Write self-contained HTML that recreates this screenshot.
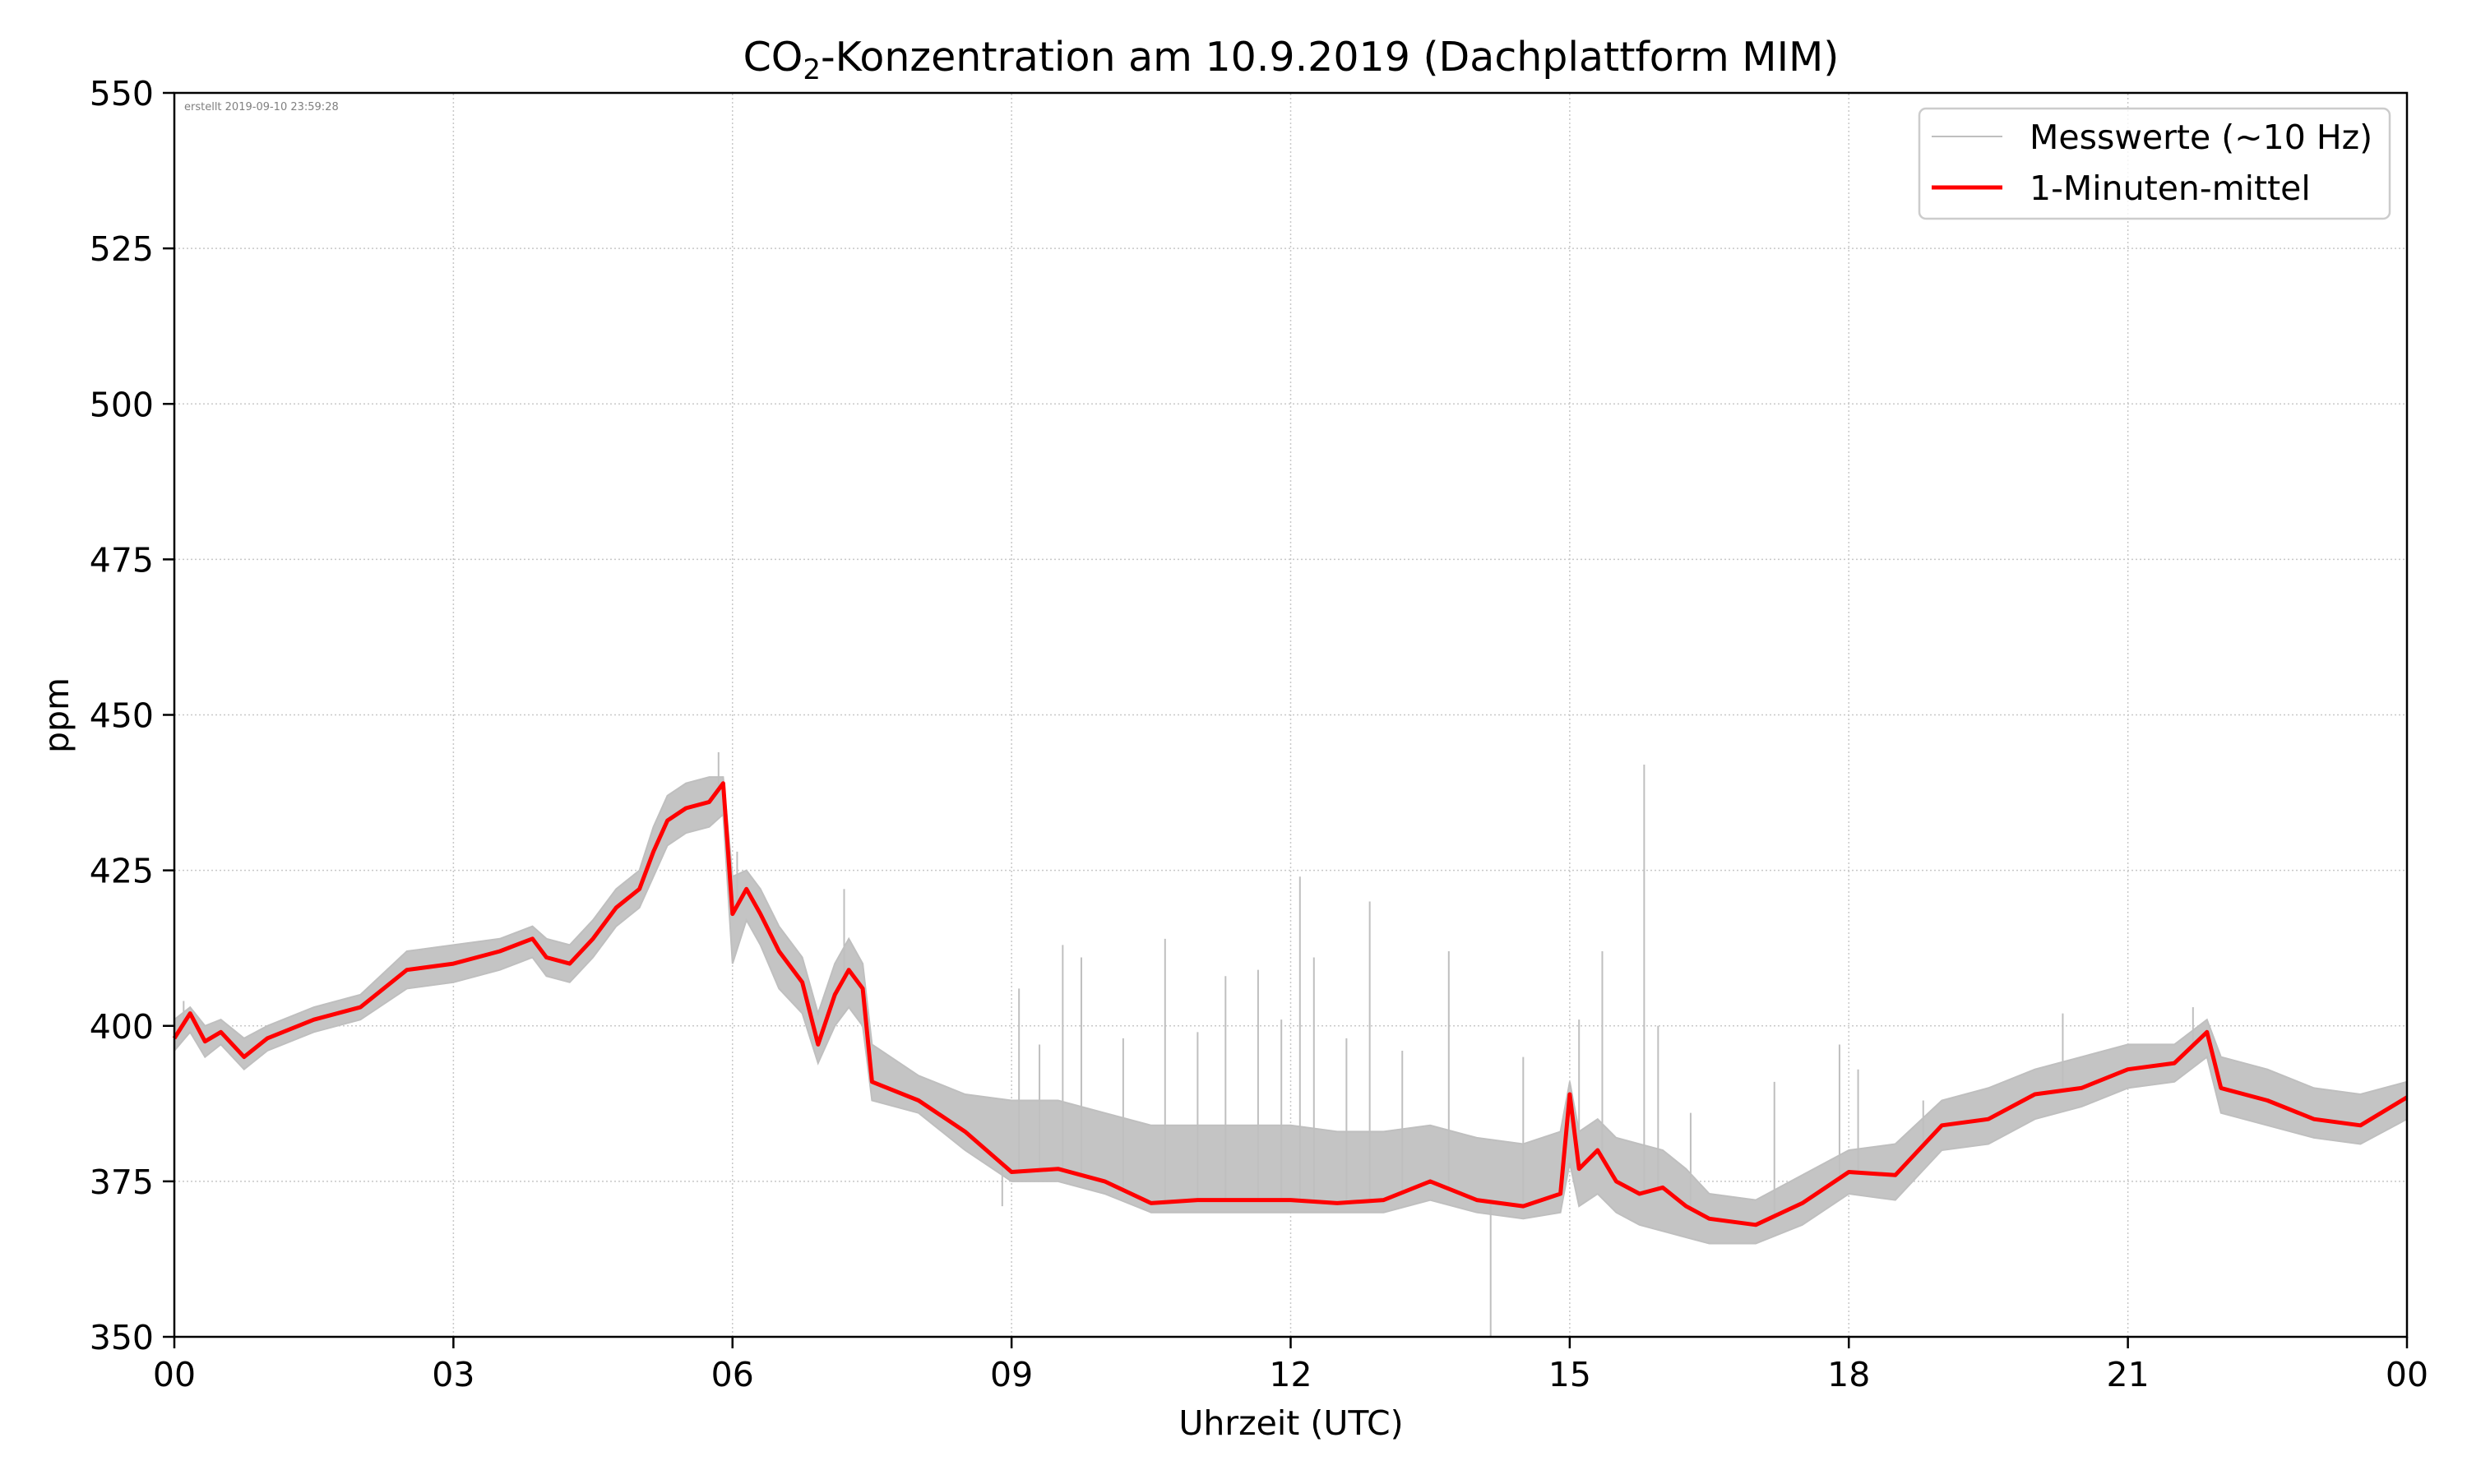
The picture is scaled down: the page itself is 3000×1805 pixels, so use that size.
<!DOCTYPE html>
<html><head><meta charset="utf-8">
<style>
html,body{margin:0;padding:0;background:#fff;}
svg text{font-family:"DejaVu Sans","Liberation Sans",sans-serif;}
</style></head>
<body>
<svg id="chart" width="3000" height="1800" viewBox="0 0 3000 1800" xmlns="http://www.w3.org/2000/svg">
<rect width="3000" height="1800" fill="#fff"/>
<text x="1570" y="86" font-size="49" text-anchor="middle">CO<tspan font-size="34" dy="10">2</tspan><tspan dy="-10">-Konzentration am 10.9.2019 (Dachplattform MIM)</tspan></text>
<g id="grid"></g>
<g id="gray"></g>
<g id="red"></g>
<rect x="212" y="113" width="2715" height="1513" fill="none" stroke="#000" stroke-width="2.5"/>
<g id="ticks"></g>
<text x="224" y="134" font-size="13" fill="#808080">erstellt 2019-09-10 23:59:28</text>
<text x="1570" y="1745" font-size="41" text-anchor="middle">Uhrzeit (UTC)</text>
<text transform="translate(83,870) rotate(-90)" font-size="41" text-anchor="middle">ppm</text>
<g>
<rect x="2334" y="132" width="572" height="134" rx="8" fill="#fff" fill-opacity="0.8" stroke="#ccc" stroke-width="2.5"/>
<line x1="2349" y1="166" x2="2435" y2="166" stroke="#bfbfbf" stroke-width="2"/>
<text x="2468" y="181" font-size="41">Messwerte (~10 Hz)</text>
<line x1="2349" y1="228" x2="2435" y2="228" stroke="#ff0000" stroke-width="5"/>
<text x="2468" y="243" font-size="41">1-Minuten-mittel</text>
</g>
</svg>
<script>
const hours = [0,0.17,0.33,0.5,0.75,1,1.5,2,2.5,3,3.5,3.85,4,4.25,4.5,4.75,5,5.15,5.3,5.5,5.75,5.9,6,6.15,6.3,6.5,6.75,6.92,7.1,7.25,7.4,7.5,8,8.5,9,9.5,10,10.5,11,11.5,12,12.5,13,13.5,14,14.5,14.9,15,15.1,15.3,15.5,15.75,16,16.25,16.5,17,17.5,18,18.5,19,19.5,20,20.5,21,21.5,21.85,22,22.5,23,23.5,24];
const meanPpm = [398,402,397.5,399,395,398,401,403,409,410,412,414,411,410,414,419,422,428,433,435,436,439,418,422,418,412,407,397,405,409,406,391,388,383,376.5,377,375,371.5,372,372,372,371.5,372,375,372,371,373,389,377,380,375,373,374,371,369,368,371.5,376.5,376,384,385,389,390,393,394,399,390,388,385,384,388.5];
const upperPpm = [401,403,400,401,398,400,403,405,412,413,414,416,414,413,417,422,425,432,437,439,440,440,424,425,422,416,411,402,410,414,410,397,392,389,388,388,386,384,384,384,384,383,383,384,382,381,383,391,383,385,382,381,380,377,373,372,376,380,381,388,390,393,395,397,397,401,395,393,390,389,391];
const lowerPpm = [396,399,395,397,393,396,399,401,406,407,409,411,408,407,411,416,419,424,429,431,432,434,410,417,413,406,402,394,400,403,400,388,386,380,375,375,373,370,370,370,370,370,370,372,370,369,370,378,371,373,370,368,367,366,365,365,368,373,372,380,381,385,387,390,391,395,386,384,382,381,385];
const spikeHours = [0.1,5.85,6.05,7.2,8.9,9.08,9.55,9.75,10.65,11.3,11.65,12.1,12.25,12.85,13.7,14.15,15.1,15.35,15.8,15.95,17.2,17.9,18.1,20.3,21.7,9.3,10.2,11.0,11.9,12.6,13.2,14.5,16.3,18.8];
const spikePpm = [404,444,428,422,371,406,413,411,414,408,409,424,411,420,412,350,401,412,442,400,391,397,393,402,403,397,398,399,401,398,396,395,386,388];
const yTicks = [350,375,400,425,450,475,500,525,550];
const xTickHours = [0,3,6,9,12,15,18,21,24];
const xTickLabels = ["00","03","06","09","12","15","18","21","00"];

const NS="http://www.w3.org/2000/svg";
const X0=212,X1=2927,Y0=1626,Y1=113;
const xs=h=>X0+(h/24)*(X1-X0);
const ys=v=>Y0-(v-350)/200*(Y0-Y1);
function mk(tag,attrs,parent){const e=document.createElementNS(NS,tag);for(const k in attrs)e.setAttribute(k,attrs[k]);parent.appendChild(e);return e;}
const grid=document.getElementById('grid'),ticks=document.getElementById('ticks');
yTicks.forEach(v=>{
  const g=mk('line',{x1:X0,x2:X1,y1:ys(v),y2:ys(v),stroke:'#c8c8c8','stroke-width':1.5,'stroke-dasharray':'2,3'},grid);
  
  
  const t=mk('line',{x1:X0-14,x2:X0,y1:ys(v),y2:ys(v),stroke:'#000','stroke-width':2.5},ticks);
  
  
  const l=mk('text',{x:X0-25,y:ys(v)+15,'font-size':41,'text-anchor':'end'},ticks);
  l.textContent=v;
  
  
});
xTickHours.forEach((h,i)=>{
  const g=mk('line',{x1:xs(h),x2:xs(h),y1:Y0,y2:Y1,stroke:'#c8c8c8','stroke-width':1.5,'stroke-dasharray':'2,3'},grid);
  
  
  const t=mk('line',{x1:xs(h),x2:xs(h),y1:Y0,y2:Y0+14,stroke:'#000','stroke-width':2.5},ticks);
  
  
  const l=mk('text',{x:xs(h),y:Y0+60,'font-size':41,'text-anchor':'middle'},ticks);
  l.textContent=xTickLabels[i];
  
  
});
const gray=document.getElementById('gray');
let d='M'+hours.map((h,i)=>xs(h).toFixed(1)+','+ys(upperPpm[i]).toFixed(1)).join('L');
for(let i=hours.length-1;i>=0;i--)d+='L'+xs(hours[i]).toFixed(1)+','+ys(lowerPpm[i]).toFixed(1);
const band=mk('path',{d:d+'Z',fill:'#c4c4c4',stroke:'#bfbfbf','stroke-width':2},gray);


spikeHours.forEach((h,i)=>{
  let j=0;while(j<hours.length-2&&hours[j+1]<h)j++;
  const f=(h-hours[j])/(hours[j+1]-hours[j]);
  const base=meanPpm[j]+(meanPpm[j+1]-meanPpm[j])*f;
  const s=mk('line',{x1:xs(h),x2:xs(h),y1:ys(base),y2:ys(spikePpm[i]),stroke:'#bfbfbf','stroke-width':2},gray);
  
  
});
const red=document.getElementById('red');
const p=mk('polyline',{points:hours.map((h,i)=>xs(h).toFixed(1)+','+ys(meanPpm[i]).toFixed(1)).join(' '),fill:'none',stroke:'#ff0000','stroke-width':5,'stroke-linejoin':'round'},red);


</script>
</body></html>
